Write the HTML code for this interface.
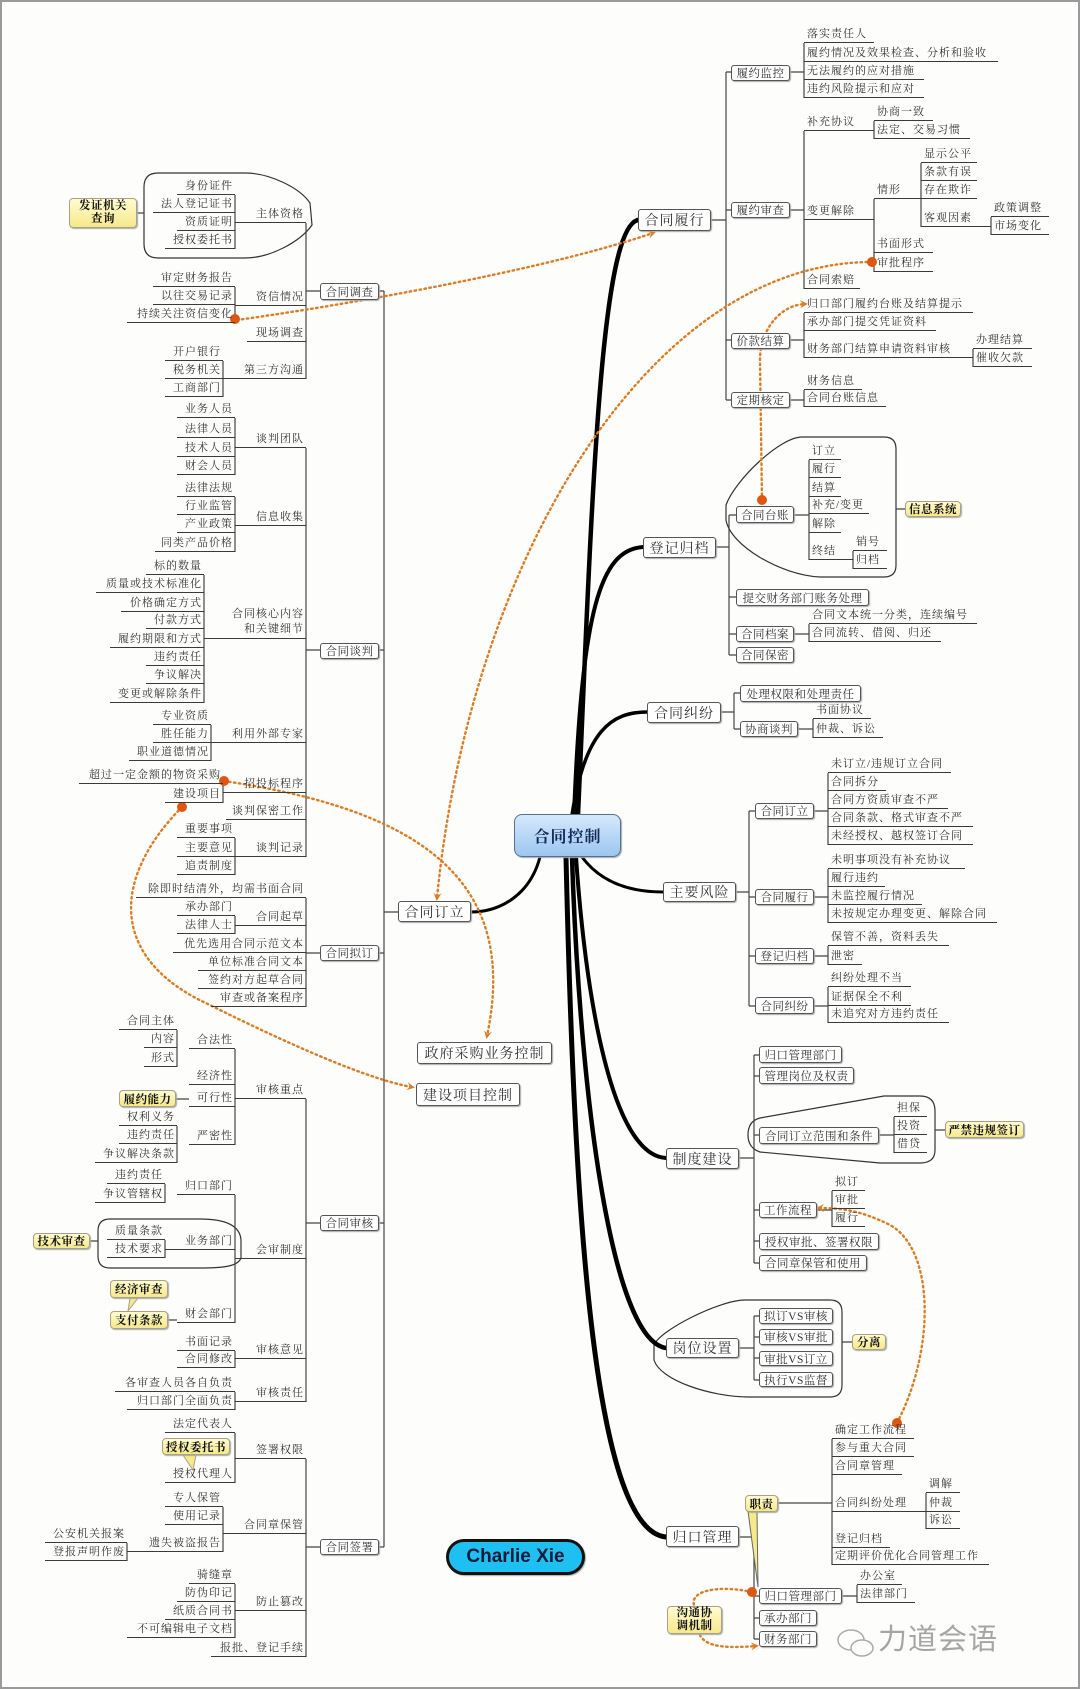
<!DOCTYPE html>
<html><head><meta charset="utf-8"><style>
html,body{margin:0;padding:0;background:#fff}
#w{position:relative;width:1080px;height:1689px;overflow:hidden;background:#fdfdfb;font-family:"Liberation Serif","Noto Serif CJK SC",serif}
#fr{position:absolute;left:0;top:0;width:1076px;height:1685px;border:2px solid #9a9a9a}
.l{position:absolute;box-sizing:border-box;height:16px;line-height:15px;border-bottom:1px solid #3a3a3a;font-size:11px;letter-spacing:1px;white-space:nowrap;color:#333;padding:0 2px 0 3px}
.r{text-align:right}
.b{position:absolute;box-sizing:border-box;border:1px solid #555;border-radius:3px;background:#fff;box-shadow:1px 1px 1px #aaa;font-size:11.5px;letter-spacing:.5px;color:#333;white-space:nowrap;display:flex;align-items:center;justify-content:center}
.g{font-size:14px;letter-spacing:1px}
.y{background:linear-gradient(#fffbd0,#f6e98a);border:1px solid #aaa089;font-weight:bold;color:#111;font-size:11.5px;border-radius:4px}
svg{position:absolute;left:0;top:0}
</style></head><body><div id="w">
<svg width="1080" height="1689">
<defs><marker id="a" markerWidth="8" markerHeight="8" refX="5" refY="4" orient="auto" markerUnits="userSpaceOnUse"><path d="M0 0L8 4L0 8L3 4Z" fill="#e07b20"/></marker></defs>
<g fill="none" stroke="#333" stroke-width="1.2">
<path d="M158 173L245 173C270 173 300 188 310 203L312 225C300 242 270 258 245 258L158 258Q144 258 144 244L144 187Q144 173 158 173Z"/>
<path d="M802 437L884 437Q896 437 896 449L896 565Q896 577 884 577L820 577C780 575 730 545 726 520L726 505C735 480 780 437 802 437Z"/>
<path d="M760 1118L884 1096L920 1096Q935 1096 935 1111L935 1150Q935 1163 920 1163L880 1163L760 1152Q748 1148 748 1135Q748 1121 760 1118Z"/>
<path d="M654 1345C660 1330 720 1300 745 1300L830 1300Q842 1300 842 1312L842 1385Q842 1397 830 1397L750 1397C710 1397 660 1380 654 1360Z"/>
<path d="M110 1219L200 1219C225 1219 240 1225 241 1240L241 1258C238 1266 225 1268 200 1268L110 1268Q98 1268 98 1256L98 1231Q98 1219 110 1219Z"/>
</g>
<path fill="none" stroke="#444" stroke-width="1.2" d="M235 195V249M306 223V379M235 287V323M223 361V397M235 418V475M235 497V552M204 575V703M211 725V761M223 784V803M235 838V875M306 448V857M235 916V934M306 898V1007M177 1030V1067M177 1126V1163M235 1049V1145M165 1184V1203M165 1240V1258M235 1195V1323M235 1351V1368M235 1392V1410M306 1099V1402M235 1433V1483M127 1543V1561M223 1507V1552M235 1584V1638M306 1459V1657M384 291V1547M306 291H320M379 291H384M306 650H320M379 650H384M306 953H320M379 953H384M306 1223H320M379 1223H384M306 1547H320M379 1547H384M384 912H398M176 1099H189M90 1241H98M168 1320H177M137 213H144
M711 220H726M726 72V400M726 72H731M726 210H731M726 340H731M726 400H731M790 72H804M804 43V98M790 210H804M804 131V289M874 121V139M874 199V272M921 163V227M991 217V235M790 340H804M804 313V358M973 349V367M790 400H804M804 390V407
M716 547H729M729 515V655M729 515H736M729 597H736M729 634H736M729 655H736M794 515H809M809 460V560M853 551V569M794 634H809M809 624V642M896 509H905
M721 712H734M734 693V729M734 693H740M734 729H740M798 729H813M813 719V738
M736 892H749M749 811V1006M749 811H755M749 897H755M749 956H755M749 1006H755M814 811H828M828 773V845M814 897H828M828 869V923M814 956H828M828 946V965M814 1006H828M828 987V1023
M739 1158H754M754 1055V1263M754 1055H759M754 1076H759M754 1135H759M754 1210H759M754 1241H759M754 1263H759M879 1135H894M894 1117V1153M935 1130H945M817 1210H832M832 1191V1227
M739 1348H754M754 1316V1380M754 1316H759M754 1337H759M754 1358H759M754 1380H759M842 1342H852
M739 1537H754M754 1537V1639M754 1596H759M754 1618H759M754 1639H759M842 1596H857M857 1585V1603M778 1503H832M832 1439V1565M926 1493V1529"/>
<g fill="none" stroke="#000" stroke-linecap="round">
<path stroke-width="4.5" d="M578 815C592 500 600 228 638 220"/>
<path stroke-width="4" d="M574 815C582 610 600 550 643 547"/>
<path stroke-width="3.5" d="M572 815C585 730 612 712 647 712"/>
<path stroke-width="3" d="M582 857C602 884 632 892 663 892"/>
<path stroke-width="4" d="M576 857C586 1000 612 1155 666 1158"/>
<path stroke-width="4.5" d="M572 857C580 1100 612 1340 666 1348"/>
<path stroke-width="5" d="M566 857C574 1200 592 1530 666 1537"/>
<path stroke-width="3" d="M540 857C530 895 500 912 471 912"/>
</g>
<g fill="none" stroke="#e07b20" stroke-width="2.4" stroke-dasharray="1.5 3.5" stroke-linecap="round">
<path marker-end="url(#a)" d="M237 320C380 300 560 265 653 233"/>
<path marker-end="url(#a)" d="M872 262C650 262 470 560 437 898"/>
<path marker-end="url(#a)" d="M762 500L760 360C760 330 780 305 805 304"/>
<path marker-end="url(#a)" d="M224 781C420 810 520 880 487 1036"/>
<path marker-end="url(#a)" d="M182 807C110 880 110 960 210 1005C290 1045 370 1080 412 1087"/>
<path marker-end="url(#a)" d="M897 1423C935 1350 935 1250 890 1225C860 1210 840 1208 819 1208"/>
<path d="M752 1592C720 1585 690 1590 694 1605"/>
<path marker-end="url(#a)" d="M700 1635C706 1648 730 1648 756 1646"/>
</g>
<g fill="#e0560f"><circle cx="235" cy="319" r="5"/><circle cx="872" cy="262" r="5"/><circle cx="762" cy="500" r="5"/><circle cx="224" cy="781" r="5"/><circle cx="182" cy="807" r="5"/><circle cx="897" cy="1423" r="5"/><circle cx="752" cy="1592" r="5"/></g>
<path d="M130 1298L128 1311L138 1298Z" fill="#f6e98a" stroke="#aaa089"/>
<path d="M183 1455L193 1470L196 1455Z" fill="#f6e98a" stroke="#aaa089"/>
<path d="M748 1511L758 1587L757 1511Z" fill="#f6e98a" stroke="#666"/>
<g fill="none" stroke="#aaa" stroke-width="1.5"><ellipse cx="851" cy="1640" rx="13" ry="10"/><ellipse cx="862" cy="1648" rx="11" ry="8" fill="#fdfdfb"/></g>
</svg>

<div class="l r" style="left:177px;top:179px;width:58px">身份证件</div>
<div class="l r" style="left:153px;top:197px;width:82px">法人登记证书</div>
<div class="l r" style="left:177px;top:215px;width:58px">资质证明</div>
<div class="l r" style="left:165px;top:233px;width:70px">授权委托书</div>
<div class="l r" style="left:235px;top:207px;width:71px">主体资格</div>
<div class="l r" style="left:153px;top:271px;width:82px">审定财务报告</div>
<div class="l r" style="left:153px;top:289px;width:82px">以往交易记录</div>
<div class="l r" style="left:127px;top:307px;width:108px">持续关注资信变化</div>
<div class="l r" style="left:235px;top:290px;width:71px">资信情况</div>
<div class="l r" style="left:247px;top:326px;width:59px">现场调查</div>
<div class="l r" style="left:165px;top:345px;width:58px">开户银行</div>
<div class="l r" style="left:165px;top:363px;width:58px">税务机关</div>
<div class="l r" style="left:165px;top:381px;width:58px">工商部门</div>
<div class="l r" style="left:223px;top:363px;width:83px">第三方沟通</div>
<div class="l r" style="left:177px;top:402px;width:58px">业务人员</div>
<div class="l r" style="left:177px;top:422px;width:58px">法律人员</div>
<div class="l r" style="left:177px;top:441px;width:58px">技术人员</div>
<div class="l r" style="left:177px;top:459px;width:58px">财会人员</div>
<div class="l r" style="left:235px;top:432px;width:71px">谈判团队</div>
<div class="l r" style="left:177px;top:481px;width:58px">法律法规</div>
<div class="l r" style="left:177px;top:499px;width:58px">行业监管</div>
<div class="l r" style="left:177px;top:517px;width:58px">产业政策</div>
<div class="l r" style="left:155px;top:536px;width:80px">同类产品价格</div>
<div class="l r" style="left:235px;top:510px;width:71px">信息收集</div>
<div class="l r" style="left:146px;top:559px;width:58px">标的数量</div>
<div class="l r" style="left:96px;top:577px;width:108px">质量或技术标准化</div>
<div class="l r" style="left:121px;top:596px;width:83px">价格确定方式</div>
<div class="l r" style="left:146px;top:613px;width:58px">付款方式</div>
<div class="l r" style="left:110px;top:632px;width:94px">履约期限和方式</div>
<div class="l r" style="left:146px;top:650px;width:58px">违约责任</div>
<div class="l r" style="left:146px;top:668px;width:58px">争议解决</div>
<div class="l r" style="left:110px;top:687px;width:94px">变更或解除条件</div>
<div class="l r" style="left:204px;top:607px;width:102px;height:32px;line-height:15px">合同核心内容<br>和关键细节</div>
<div class="l r" style="left:153px;top:709px;width:58px">专业资质</div>
<div class="l r" style="left:153px;top:727px;width:58px">胜任能力</div>
<div class="l r" style="left:129px;top:745px;width:82px">职业道德情况</div>
<div class="l r" style="left:211px;top:727px;width:95px">利用外部专家</div>
<div class="l r" style="left:79px;top:768px;width:144px">超过一定金额的物资采购</div>
<div class="l r" style="left:165px;top:787px;width:58px">建设项目</div>
<div class="l r" style="left:223px;top:777px;width:83px">招投标程序</div>
<div class="l r" style="left:226px;top:804px;width:80px">谈判保密工作</div>
<div class="l r" style="left:177px;top:822px;width:58px">重要事项</div>
<div class="l r" style="left:177px;top:841px;width:58px">主要意见</div>
<div class="l r" style="left:177px;top:859px;width:58px">追责制度</div>
<div class="l r" style="left:235px;top:841px;width:71px">谈判记录</div>
<div class="l r" style="left:136px;top:882px;width:170px">除即时结清外，均需书面合同</div>
<div class="l r" style="left:177px;top:900px;width:58px">承办部门</div>
<div class="l r" style="left:177px;top:918px;width:58px">法律人士</div>
<div class="l r" style="left:235px;top:910px;width:71px">合同起草</div>
<div class="l r" style="left:173px;top:937px;width:133px">优先选用合同示范文本</div>
<div class="l r" style="left:198px;top:955px;width:108px">单位标准合同文本</div>
<div class="l r" style="left:198px;top:973px;width:108px">签约对方起草合同</div>
<div class="l r" style="left:211px;top:991px;width:95px">审查或备案程序</div>
<div class="l r" style="left:119px;top:1014px;width:58px">合同主体</div>
<div class="l r" style="left:144px;top:1032px;width:33px">内容</div>
<div class="l r" style="left:144px;top:1051px;width:33px">形式</div>
<div class="l r" style="left:189px;top:1033px;width:46px">合法性</div>
<div class="l r" style="left:189px;top:1069px;width:46px">经济性</div>
<div class="l r" style="left:189px;top:1091px;width:46px">可行性</div>
<div class="l r" style="left:119px;top:1110px;width:58px">权利义务</div>
<div class="l r" style="left:119px;top:1128px;width:58px">违约责任</div>
<div class="l r" style="left:95px;top:1147px;width:82px">争议解决条款</div>
<div class="l r" style="left:189px;top:1129px;width:46px">严密性</div>
<div class="l r" style="left:235px;top:1083px;width:71px">审核重点</div>
<div class="l r" style="left:107px;top:1168px;width:58px">违约责任</div>
<div class="l r" style="left:95px;top:1187px;width:70px">争议管辖权</div>
<div class="l r" style="left:177px;top:1179px;width:58px">归口部门</div>
<div class="l r" style="left:107px;top:1224px;width:58px">质量条款</div>
<div class="l r" style="left:107px;top:1242px;width:58px">技术要求</div>
<div class="l r" style="left:165px;top:1234px;width:70px">业务部门</div>
<div class="l r" style="left:177px;top:1307px;width:58px">财会部门</div>
<div class="l r" style="left:235px;top:1243px;width:71px">会审制度</div>
<div class="l r" style="left:177px;top:1335px;width:58px">书面记录</div>
<div class="l r" style="left:177px;top:1352px;width:58px">合同修改</div>
<div class="l r" style="left:235px;top:1343px;width:71px">审核意见</div>
<div class="l r" style="left:115px;top:1376px;width:120px">各审查人员各自负责</div>
<div class="l r" style="left:127px;top:1394px;width:108px">归口部门全面负责</div>
<div class="l r" style="left:235px;top:1386px;width:71px">审核责任</div>
<div class="l r" style="left:165px;top:1417px;width:70px">法定代表人</div>
<div class="l r" style="left:165px;top:1467px;width:70px">授权代理人</div>
<div class="l r" style="left:235px;top:1443px;width:71px">签署权限</div>
<div class="l r" style="left:165px;top:1491px;width:58px">专人保管</div>
<div class="l r" style="left:165px;top:1509px;width:58px">使用记录</div>
<div class="l r" style="left:45px;top:1527px;width:82px">公安机关报案</div>
<div class="l r" style="left:45px;top:1545px;width:82px">登报声明作废</div>
<div class="l r" style="left:127px;top:1536px;width:96px">遗失被盗报告</div>
<div class="l r" style="left:223px;top:1518px;width:83px">合同章保管</div>
<div class="l r" style="left:189px;top:1568px;width:46px">骑缝章</div>
<div class="l r" style="left:177px;top:1586px;width:58px">防伪印记</div>
<div class="l r" style="left:165px;top:1604px;width:70px">纸质合同书</div>
<div class="l r" style="left:127px;top:1622px;width:108px">不可编辑电子文档</div>
<div class="l r" style="left:235px;top:1595px;width:71px">防止篡改</div>
<div class="l r" style="left:211px;top:1641px;width:95px">报批、登记手续</div>

<div class="b y" style="left:69px;top:198px;width:68px;height:30px;line-height:13px;text-align:center">发证机关<br>查询</div>
<div class="b" style="left:320px;top:283px;width:59px;height:17px">合同调查</div>
<div class="b" style="left:320px;top:643px;width:59px;height:16px">合同谈判</div>
<div class="b" style="left:320px;top:945px;width:59px;height:16px">合同拟订</div>
<div class="b" style="left:320px;top:1215px;width:59px;height:16px">合同审核</div>
<div class="b" style="left:320px;top:1539px;width:59px;height:16px">合同签署</div>
<div class="b y" style="left:119px;top:1090px;width:57px;height:17px">履约能力</div>
<div class="b y" style="left:33px;top:1233px;width:57px;height:16px">技术审查</div>
<div class="b y" style="left:110px;top:1280px;width:58px;height:18px">经济审查</div>
<div class="b y" style="left:110px;top:1311px;width:58px;height:18px">支付条款</div>
<div class="b y" style="left:162px;top:1438px;width:68px;height:17px">授权委托书</div>
<div class="b g" style="left:398px;top:901px;width:73px;height:21px">合同订立</div>
<div class="b g" style="left:417px;top:1042px;width:135px;height:22px">政府采购业务控制</div>
<div class="b g" style="left:416px;top:1083px;width:104px;height:23px">建设项目控制</div>
<div class="b" style="left:514px;top:814px;width:107px;height:43px;border-radius:8px;background:linear-gradient(#d6e9fc,#9cc6f0);font-size:16px;letter-spacing:1px;color:#14285a;font-weight:bold;border-color:#5a6f8c">合同控制</div>
<div class="b" style="left:446px;top:1539px;width:139px;height:36px;border-radius:18px;background:#1ec0f2;border:3px solid #111;font-family:'Liberation Sans',sans-serif;font-size:19px;font-weight:bold;color:#0d1b3a;letter-spacing:0">Charlie Xie</div>

<div class="b g" style="left:638px;top:209px;width:73px;height:22px">合同履行</div>
<div class="b" style="left:731px;top:65px;width:59px;height:16px">履约监控</div>
<div class="b" style="left:731px;top:202px;width:59px;height:16px">履约审查</div>
<div class="b" style="left:731px;top:333px;width:59px;height:16px">价款结算</div>
<div class="b" style="left:731px;top:392px;width:59px;height:16px">定期核定</div>
<div class="l" style="left:804px;top:27px;width:70px">落实责任人</div>
<div class="l" style="left:804px;top:46px;width:194px">履约情况及效果检查、分析和验收</div>
<div class="l" style="left:804px;top:64px;width:120px">无法履约的应对措施</div>
<div class="l" style="left:804px;top:82px;width:120px">违约风险提示和应对</div>
<div class="l" style="left:804px;top:115px;width:70px">补充协议</div>
<div class="l" style="left:874px;top:105px;width:59px">协商一致</div>
<div class="l" style="left:874px;top:123px;width:96px">法定、交易习惯</div>
<div class="l" style="left:804px;top:204px;width:70px">变更解除</div>
<div class="l" style="left:874px;top:183px;width:47px">情形</div>
<div class="l" style="left:921px;top:147px;width:56px">显示公平</div>
<div class="l" style="left:921px;top:165px;width:56px">条款有误</div>
<div class="l" style="left:921px;top:183px;width:56px">存在欺诈</div>
<div class="l" style="left:921px;top:211px;width:70px">客观因素</div>
<div class="l" style="left:991px;top:201px;width:58px">政策调整</div>
<div class="l" style="left:991px;top:219px;width:58px">市场变化</div>
<div class="l" style="left:874px;top:237px;width:59px">书面形式</div>
<div class="l" style="left:874px;top:256px;width:59px">审批程序</div>
<div class="l" style="left:804px;top:273px;width:56px">合同索赔</div>
<div class="l" style="left:804px;top:297px;width:169px">归口部门履约台账及结算提示</div>
<div class="l" style="left:804px;top:315px;width:132px">承办部门提交凭证资料</div>
<div class="l" style="left:804px;top:342px;width:169px">财务部门结算申请资料审核</div>
<div class="l" style="left:973px;top:333px;width:59px">办理结算</div>
<div class="l" style="left:973px;top:351px;width:59px">催收欠款</div>
<div class="l" style="left:804px;top:374px;width:58px">财务信息</div>
<div class="l" style="left:804px;top:391px;width:82px">合同台账信息</div>

<div class="b g" style="left:643px;top:537px;width:73px;height:21px">登记归档</div>
<div class="b" style="left:736px;top:506px;width:58px;height:17px">合同台账</div>
<div class="l" style="left:809px;top:444px;width:32px">订立</div>
<div class="l" style="left:809px;top:462px;width:32px">履行</div>
<div class="l" style="left:809px;top:481px;width:32px">结算</div>
<div class="l" style="left:809px;top:498px;width:60px">补充/变更</div>
<div class="l" style="left:809px;top:517px;width:32px">解除</div>
<div class="l" style="left:809px;top:544px;width:44px">终结</div>
<div class="l" style="left:853px;top:535px;width:34px">销号</div>
<div class="l" style="left:853px;top:553px;width:34px">归档</div>
<div class="b y" style="left:905px;top:501px;width:56px;height:16px">信息系统</div>
<div class="b" style="left:736px;top:589px;width:133px;height:17px">提交财务部门账务处理</div>
<div class="b" style="left:736px;top:626px;width:58px;height:16px">合同档案</div>
<div class="l" style="left:809px;top:608px;width:168px">合同文本统一分类，连续编号</div>
<div class="l" style="left:809px;top:626px;width:132px">合同流转、借阅、归还</div>
<div class="b" style="left:736px;top:647px;width:58px;height:16px">合同保密</div>

<div class="b g" style="left:647px;top:702px;width:74px;height:21px">合同纠纷</div>
<div class="b" style="left:740px;top:685px;width:121px;height:17px">处理权限和处理责任</div>
<div class="b" style="left:740px;top:721px;width:58px;height:16px">协商谈判</div>
<div class="l" style="left:813px;top:703px;width:58px">书面协议</div>
<div class="l" style="left:813px;top:722px;width:70px">仲裁、诉讼</div>

<div class="b g" style="left:663px;top:882px;width:73px;height:20px">主要风险</div>
<div class="b" style="left:755px;top:803px;width:59px;height:16px">合同订立</div>
<div class="b" style="left:755px;top:889px;width:59px;height:16px">合同履行</div>
<div class="b" style="left:755px;top:948px;width:59px;height:16px">登记归档</div>
<div class="b" style="left:755px;top:997px;width:59px;height:17px">合同纠纷</div>
<div class="l" style="left:828px;top:757px;width:123px">未订立/违规订立合同</div>
<div class="l" style="left:828px;top:775px;width:58px">合同拆分</div>
<div class="l" style="left:828px;top:793px;width:120px">合同方资质审查不严</div>
<div class="l" style="left:828px;top:811px;width:145px">合同条款、格式审查不严</div>
<div class="l" style="left:828px;top:829px;width:145px">未经授权、越权签订合同</div>
<div class="l" style="left:828px;top:853px;width:137px">未明事项没有补充协议</div>
<div class="l" style="left:828px;top:871px;width:57px">履行违约</div>
<div class="l" style="left:828px;top:889px;width:94px">未监控履行情况</div>
<div class="l" style="left:828px;top:907px;width:169px">未按规定办理变更、解除合同</div>
<div class="l" style="left:828px;top:930px;width:121px">保管不善，资料丢失</div>
<div class="l" style="left:828px;top:949px;width:34px">泄密</div>
<div class="l" style="left:828px;top:971px;width:83px">纠纷处理不当</div>
<div class="l" style="left:828px;top:990px;width:83px">证据保全不利</div>
<div class="l" style="left:828px;top:1007px;width:121px">未追究对方违约责任</div>

<div class="b g" style="left:666px;top:1148px;width:73px;height:21px">制度建设</div>
<div class="b" style="left:759px;top:1046px;width:83px;height:17px">归口管理部门</div>
<div class="b" style="left:759px;top:1067px;width:95px;height:17px">管理岗位及权责</div>
<div class="b" style="left:759px;top:1127px;width:120px;height:17px">合同订立范围和条件</div>
<div class="l" style="left:894px;top:1101px;width:33px">担保</div>
<div class="l" style="left:894px;top:1119px;width:33px">投资</div>
<div class="l" style="left:894px;top:1137px;width:33px">借贷</div>
<div class="b y" style="left:945px;top:1121px;width:79px;height:17px">严禁违规签订</div>
<div class="b" style="left:759px;top:1202px;width:58px;height:16px">工作流程</div>
<div class="l" style="left:832px;top:1175px;width:33px">拟订</div>
<div class="l" style="left:832px;top:1193px;width:33px">审批</div>
<div class="l" style="left:832px;top:1211px;width:33px">履行</div>
<div class="b" style="left:759px;top:1233px;width:120px;height:17px">授权审批、签署权限</div>
<div class="b" style="left:759px;top:1255px;width:108px;height:16px">合同章保管和使用</div>

<div class="b g" style="left:666px;top:1338px;width:73px;height:20px">岗位设置</div>
<div class="b" style="left:759px;top:1308px;width:74px;height:16px">拟订VS审核</div>
<div class="b" style="left:759px;top:1329px;width:74px;height:16px">审核VS审批</div>
<div class="b" style="left:759px;top:1351px;width:74px;height:15px">审批VS订立</div>
<div class="b" style="left:759px;top:1372px;width:74px;height:15px">执行VS监督</div>
<div class="b y" style="left:852px;top:1334px;width:34px;height:16px">分离</div>

<div class="b g" style="left:666px;top:1526px;width:73px;height:21px">归口管理</div>
<div class="b" style="left:759px;top:1588px;width:83px;height:16px">归口管理部门</div>
<div class="b" style="left:759px;top:1610px;width:58px;height:16px">承办部门</div>
<div class="b" style="left:759px;top:1631px;width:58px;height:16px">财务部门</div>
<div class="l" style="left:857px;top:1569px;width:45px">办公室</div>
<div class="l" style="left:857px;top:1587px;width:58px">法律部门</div>
<div class="b y" style="left:745px;top:1495px;width:33px;height:17px">职责</div>
<div class="l" style="left:832px;top:1423px;width:82px">确定工作流程</div>
<div class="l" style="left:832px;top:1441px;width:82px">参与重大合同</div>
<div class="l" style="left:832px;top:1459px;width:70px">合同章管理</div>
<div class="l" style="left:832px;top:1496px;width:94px">合同纠纷处理</div>
<div class="l" style="left:926px;top:1477px;width:34px">调解</div>
<div class="l" style="left:926px;top:1496px;width:34px">仲裁</div>
<div class="l" style="left:926px;top:1513px;width:34px">诉讼</div>
<div class="l" style="left:832px;top:1532px;width:58px">登记归档</div>
<div class="l" style="left:832px;top:1549px;width:157px">定期评价优化合同管理工作</div>
<div class="b y" style="left:667px;top:1606px;width:55px;height:28px;line-height:13px;text-align:center">沟通协<br>调机制</div>

<div style="position:absolute;left:878px;top:1624px;font-family:'Liberation Sans','Noto Sans CJK SC',sans-serif;font-size:29px;color:#a5a5a5;letter-spacing:1px;line-height:32px;white-space:nowrap">力道会语</div>
<div id="fr"></div>
</div></body></html>
